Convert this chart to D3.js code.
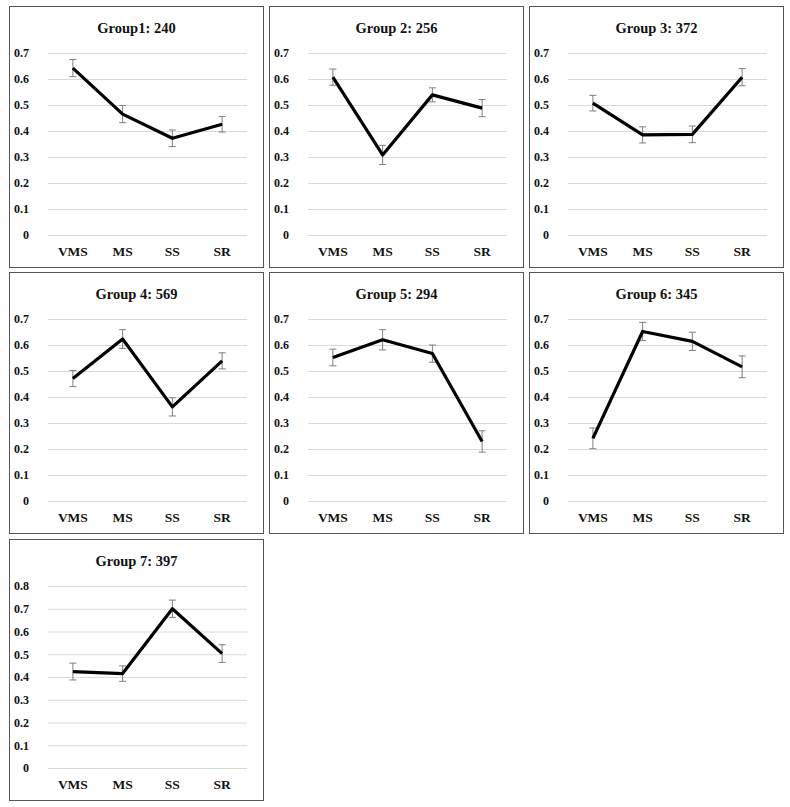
<!DOCTYPE html>
<html>
<head>
<meta charset="utf-8">
<script src="https://cdn.jsdelivr.net/npm/d3@7"></script>
<style>
  html, body { margin: 0; padding: 0; background: #fff; }
  svg { display: block; }
</style>
</head>
<body>
<svg id="chart" width="790" height="807"></svg>
<script>
const categories = ["VMS", "MS", "SS", "SR"];
const titles = ["Group1: 240", "Group 2: 256", "Group 3: 372", "Group 4: 569", "Group 5: 294", "Group 6: 345", "Group 7: 397"];
const yMaxes = [0.7, 0.7, 0.7, 0.7, 0.7, 0.7, 0.8];
const means = [
  [0.642, 0.465, 0.372, 0.426],
  [0.607, 0.308, 0.539, 0.488],
  [0.507, 0.385, 0.387, 0.607],
  [0.471, 0.623, 0.362, 0.539],
  [0.552, 0.620, 0.567, 0.229],
  [0.241, 0.652, 0.614, 0.516],
  [0.424, 0.415, 0.700, 0.503]
];
const errors = [
  [0.033, 0.033, 0.032, 0.030],
  [0.031, 0.037, 0.027, 0.033],
  [0.030, 0.031, 0.032, 0.033],
  [0.031, 0.036, 0.035, 0.031],
  [0.032, 0.039, 0.033, 0.041],
  [0.040, 0.035, 0.035, 0.042],
  [0.037, 0.034, 0.038, 0.039]
];

const svg = d3.select("#chart");
const panelW = 254, panelH = 261;
const colX = [9, 269, 529];
const rowY = [6, 272, 539];
const plot = { left: 39, right: 238, top: 47, bottom: 229 };
const font = "'Liberation Serif', 'Times New Roman', Times, serif";

titles.forEach((title, i) => {
  const px = colX[i % 3], py = rowY[Math.floor(i / 3)];
  const g = svg.append("g").attr("transform", `translate(${px},${py})`);

  g.append("rect")
    .attr("x", 0.5).attr("y", 0.5)
    .attr("width", panelW).attr("height", panelH)
    .attr("fill", "#fff").attr("stroke", "#555").attr("stroke-width", 1);

  g.append("text")
    .attr("x", panelW / 2 + 0.5).attr("y", 27)
    .attr("text-anchor", "middle")
    .attr("font-family", font).attr("font-weight", "bold")
    .attr("font-size", 14.5).attr("fill", "#111")
    .text(title);

  const x = d3.scaleBand().domain(categories).range([plot.left, plot.right]).padding(0);
  const y = d3.scaleLinear().domain([0, yMaxes[i]]).range([plot.bottom, plot.top]);
  const tickVals = d3.range(0, yMaxes[i] + 0.05, 0.1).map(v => Math.round(v * 10) / 10);

  const yAxis = g.append("g")
    .attr("transform", `translate(${plot.left},0)`)
    .call(d3.axisLeft(y).tickValues(tickVals)
      .tickSize(-(plot.right - plot.left)).tickPadding(19)
      .tickFormat(d => d === 0 ? "0" : d.toFixed(1)));
  yAxis.select(".domain").remove();
  yAxis.selectAll(".tick line").attr("stroke", "#d9d9d9").attr("stroke-width", 1);
  yAxis.selectAll(".tick text")
    .attr("font-family", font).attr("font-weight", "bold")
    .attr("font-size", 12).attr("fill", "#111");

  const xAxis = g.append("g")
    .attr("transform", `translate(0,${plot.bottom})`)
    .call(d3.axisBottom(x).tickSize(0).tickPadding(11));
  xAxis.select(".domain").remove();
  xAxis.selectAll(".tick text")
    .attr("font-family", font).attr("font-weight", "bold")
    .attr("font-size", 13.5).attr("fill", "#111");

  const pts = categories.map((c, j) => ({ c, m: means[i][j], e: errors[i][j] }));
  const cx = d => x(d.c) + x.bandwidth() / 2;

  const eb = g.append("g").attr("stroke", "#7f7f7f").attr("stroke-width", 1).attr("fill", "none");
  pts.forEach(d => {
    const xx = cx(d);
    eb.append("line").attr("x1", xx).attr("x2", xx).attr("y1", y(d.m + d.e)).attr("y2", y(d.m - d.e));
    eb.append("line").attr("x1", xx - 3.5).attr("x2", xx + 3.5).attr("y1", y(d.m + d.e)).attr("y2", y(d.m + d.e));
    eb.append("line").attr("x1", xx - 3.5).attr("x2", xx + 3.5).attr("y1", y(d.m - d.e)).attr("y2", y(d.m - d.e));
  });

  g.append("path")
    .datum(pts)
    .attr("fill", "none").attr("stroke", "#000").attr("stroke-width", 3.2)
    .attr("stroke-linejoin", "round")
    .attr("d", d3.line().x(cx).y(d => y(d.m)));
});
</script>
</body>
</html>
